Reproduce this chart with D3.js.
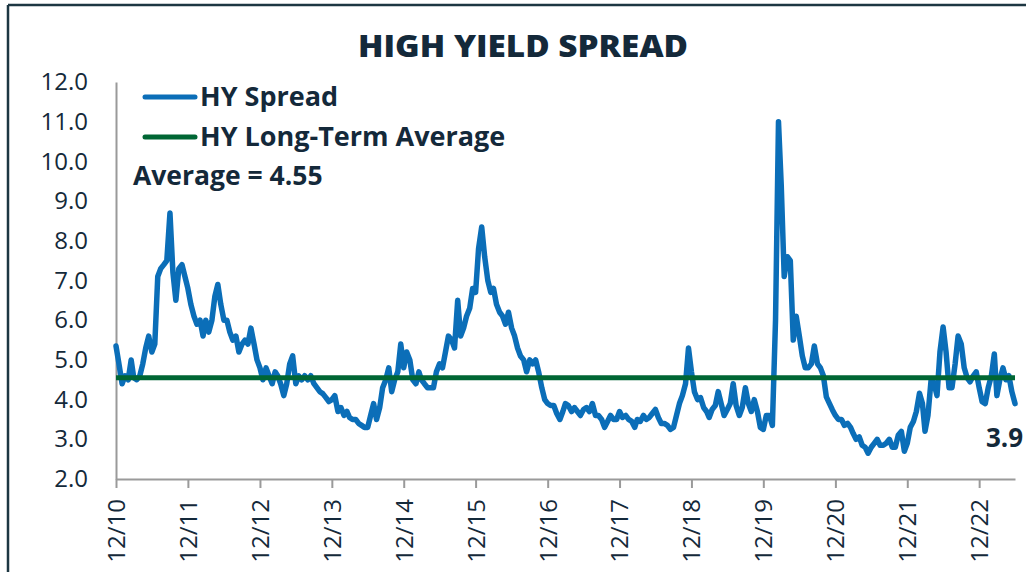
<!DOCTYPE html>
<html>
<head>
<meta charset="utf-8">
<script src="https://cdn.jsdelivr.net/npm/d3@7"></script>
<style>
  body { margin: 0; background: #fff; }
  svg { display: block; font-family: 'Open Sans', 'Noto Sans', sans-serif; }
</style>
</head>
<body>
<svg width="1026" height="572"></svg>
<script>
// HY spread, semi-monthly readings (1st and 16th of each month), starting Dec 2010
const dec2010 = [5.35, 4.9];
const y2011 = [4.4, 4.6, 4.5, 5.0, 4.55, 4.5, 4.6, 4.9, 5.3, 5.6, 5.2, 5.4, 7.1, 7.3, 7.4, 7.5, 8.7, 7.2, 6.5, 7.3, 7.4, 7.1, 6.8, 6.4];
const y2012 = [6.1, 5.9, 6.0, 5.6, 6.0, 5.7, 6.0, 6.6, 6.9, 6.4, 6.0, 6.0, 5.7, 5.5, 5.6, 5.2, 5.4, 5.5, 5.4, 5.8, 5.4, 5.0, 4.8, 4.5];
const y2013 = [4.8, 4.6, 4.4, 4.7, 4.6, 4.4, 4.1, 4.4, 4.9, 5.1, 4.4, 4.6, 4.5, 4.6, 4.5, 4.6, 4.4, 4.3, 4.2, 4.15, 4.05, 3.95, 4.0, 4.1];
const y2014 = [3.7, 3.8, 3.6, 3.7, 3.55, 3.5, 3.5, 3.4, 3.35, 3.3, 3.3, 3.6, 3.9, 3.5, 3.8, 4.3, 4.5, 4.8, 4.2, 4.5, 4.7, 5.4, 4.8, 5.2];
const y2015 = [5.0, 4.5, 4.4, 4.7, 4.5, 4.4, 4.3, 4.3, 4.3, 4.7, 4.9, 4.8, 5.2, 5.6, 5.5, 5.3, 6.5, 5.6, 5.8, 6.1, 6.3, 6.8, 6.7, 7.8];
const y2016 = [8.35, 7.6, 7.0, 6.7, 6.8, 6.4, 6.2, 6.1, 5.9, 6.2, 5.8, 5.6, 5.3, 5.1, 5.0, 4.7, 5.0, 4.9, 5.0, 4.7, 4.3, 4.0, 3.9, 3.85];
const y2017 = [3.85, 3.65, 3.5, 3.7, 3.9, 3.85, 3.7, 3.8, 3.7, 3.6, 3.75, 3.8, 3.7, 3.9, 3.6, 3.6, 3.5, 3.3, 3.45, 3.6, 3.5, 3.5, 3.7, 3.55];
const y2018 = [3.6, 3.5, 3.45, 3.3, 3.5, 3.45, 3.6, 3.5, 3.55, 3.65, 3.75, 3.55, 3.4, 3.4, 3.35, 3.25, 3.3, 3.6, 3.9, 4.1, 4.4, 5.3, 4.7, 4.2];
const y2019 = [4.0, 4.05, 3.8, 3.7, 3.55, 3.75, 3.85, 4.2, 3.9, 3.6, 3.75, 3.9, 4.4, 3.85, 3.6, 3.8, 4.3, 3.9, 3.7, 4.0, 3.7, 3.3, 3.25, 3.6];
const y2020 = [3.6, 3.35, 6.0, 11.0, 9.4, 7.1, 7.6, 7.5, 5.5, 6.1, 5.6, 5.1, 4.8, 4.8, 4.9, 5.35, 4.9, 4.8, 4.6, 4.07, 3.9, 3.74, 3.6, 3.5];
const y2021 = [3.5, 3.35, 3.4, 3.3, 3.15, 3.0, 3.06, 2.85, 2.8, 2.65, 2.8, 2.9, 3.0, 2.85, 2.85, 2.9, 3.0, 2.8, 2.8, 3.1, 3.2, 2.7, 2.9, 3.3];
const y2022 = [3.45, 3.7, 4.16, 3.9, 3.2, 3.6, 4.5, 4.4, 4.1, 5.2, 5.83, 5.2, 4.3, 4.3, 4.9, 5.6, 5.4, 4.8, 4.55, 4.45, 4.6, 4.7, 4.3, 3.95];
const y2023 = [3.9, 4.3, 4.6, 5.15, 4.1, 4.5, 4.8, 4.5, 4.6, 4.2, 3.9];

const longTermAverage = 4.55;
const lastValue = '3.9';
const tickYears = [2010, 2011, 2012, 2013, 2014, 2015, 2016, 2017, 2018, 2019, 2020, 2021, 2022];
const yTicks = [2, 3, 4, 5, 6, 7, 8, 9, 10, 11, 12];

const spread = [].concat(dec2010, y2011, y2012, y2013, y2014, y2015, y2016,
  y2017, y2018, y2019, y2020, y2021, y2022, y2023)
  .map((v, i) => ({date: new Date(2010, 11 + Math.floor(i / 2), i % 2 ? 16 : 1), value: v}));

const INK = '#14293a';
const BLUE = '#0b6eb8';
const GREEN = '#006634';
const AXIS = '#9a9a9a';

const svg = d3.select('svg');

// frame
svg.append('line')
  .attr('x1', 8).attr('y1', 5).attr('x2', 8).attr('y2', 572)
  .attr('stroke', '#1d3742').attr('stroke-width', 2.5);
svg.append('line')
  .attr('x1', 8).attr('y1', 5).attr('x2', 1026).attr('y2', 5)
  .attr('stroke', '#1d3742').attr('stroke-width', 2.5);

const x = d3.scaleTime()
  .domain([new Date(2010, 11, 1), new Date(2023, 5, 1)])
  .range([116, 1015]);

const y = d3.scaleLinear()
  .domain([2, 12])
  .range([479, 82]);

// y axis
const yAxis = svg.append('g')
  .attr('transform', 'translate(116,0)')
  .call(d3.axisLeft(y)
    .tickValues(yTicks)
    .tickSize(0)
    .tickPadding(28)
    .tickFormat(d3.format('.1f')));
yAxis.select('.domain').attr('stroke', AXIS).attr('stroke-width', 2);
yAxis.selectAll('text')
  .attr('fill', INK)
  .style('font-size', '24px')
  .style('font-family', "'Open Sans', sans-serif");

// x axis
const xAxis = svg.append('g')
  .attr('transform', 'translate(0,479)')
  .call(d3.axisBottom(x)
    .tickValues(tickYears.map(yr => new Date(yr, 11, 1)))
    .tickSize(9)
    .tickSizeOuter(0)
    .tickFormat(d3.timeFormat('%m/%y')));
xAxis.select('.domain').attr('stroke', AXIS).attr('stroke-width', 2);
xAxis.selectAll('.tick line').attr('stroke', AXIS).attr('stroke-width', 2);
xAxis.selectAll('text')
  .attr('transform', 'rotate(-90)')
  .attr('x', -20)
  .attr('y', 0)
  .attr('dy', '0.35em')
  .style('text-anchor', 'end')
  .attr('fill', INK)
  .style('font-size', '24px')
  .style('font-family', "'Open Sans', sans-serif");

// spread line
const line = d3.line()
  .x(d => x(d.date))
  .y(d => y(d.value));

svg.append('path')
  .datum(spread)
  .attr('d', line)
  .attr('fill', 'none')
  .attr('stroke', BLUE)
  .attr('stroke-width', 5.5)
  .attr('stroke-linejoin', 'round')
  .attr('stroke-linecap', 'round');

// long-term average
svg.append('path')
  .datum([{date: x.domain()[0], value: longTermAverage}, {date: x.domain()[1], value: longTermAverage}])
  .attr('d', line)
  .attr('fill', 'none')
  .attr('stroke', GREEN)
  .attr('stroke-width', 5);

// title
svg.append('text')
  .attr('x', 523)
  .attr('y', 57)
  .attr('text-anchor', 'middle')
  .attr('fill', INK)
  .attr('textLength', 330)
  .attr('lengthAdjust', 'spacingAndGlyphs')
  .style('font-size', '30px')
  .style('font-weight', 800)
  .text('HIGH YIELD SPREAD');

// legend
const legend = [
  {label: 'HY Spread', color: BLUE, y: 97},
  {label: 'HY Long-Term Average', color: GREEN, y: 137}
];
legend.forEach(d => {
  svg.append('line')
    .attr('x1', 145).attr('x2', 195)
    .attr('y1', d.y).attr('y2', d.y)
    .attr('stroke', d.color)
    .attr('stroke-width', 5)
    .attr('stroke-linecap', 'round');
  svg.append('text')
    .attr('x', 200)
    .attr('y', d.y + 9)
    .attr('fill', INK)
    .style('font-size', '27px')
    .style('font-weight', 700)
    .text(d.label);
});

svg.append('text')
  .attr('x', 133)
  .attr('y', 185)
  .attr('fill', INK)
  .style('font-size', '26.5px')
  .style('font-weight', 700)
  .text('Average = ' + longTermAverage);

svg.append('text')
  .attr('x', 986)
  .attr('y', 447)
  .attr('fill', INK)
  .style('font-size', '26px')
  .style('font-weight', 700)
  .text(lastValue);
</script>
</body>
</html>
